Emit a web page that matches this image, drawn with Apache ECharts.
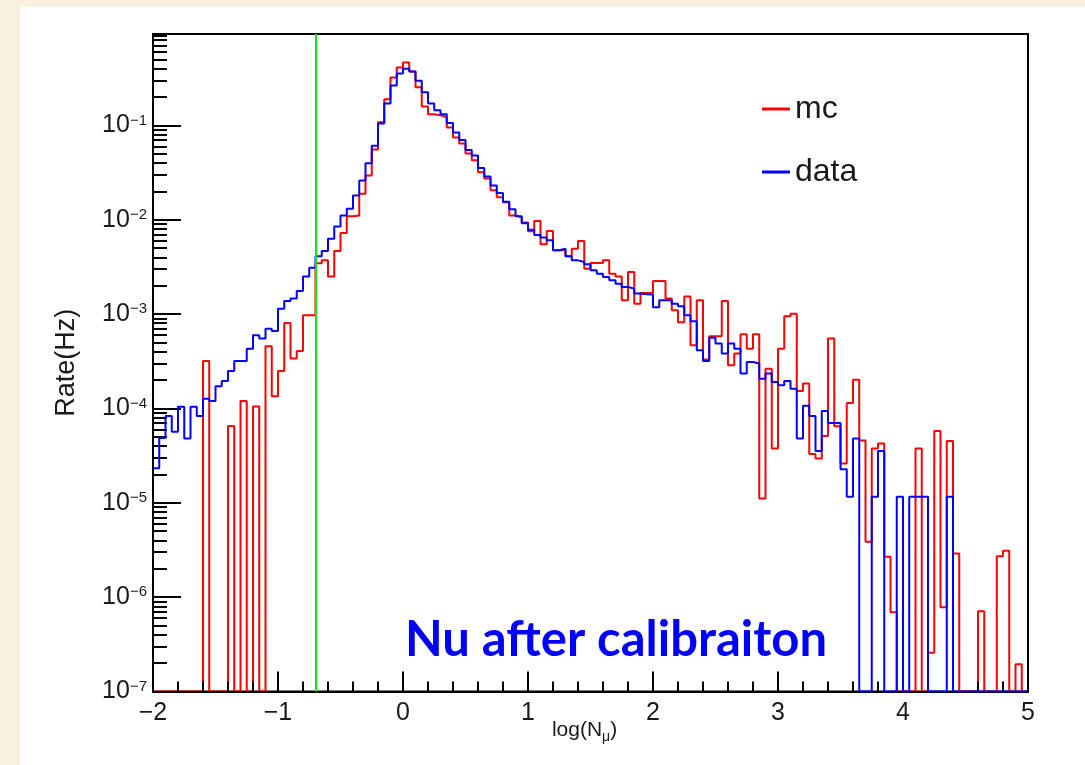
<!DOCTYPE html>
<html><head><meta charset="utf-8">
<script src="https://cdn.jsdelivr.net/npm/echarts@6/dist/echarts.min.js"></script>
<style>
html,body{margin:0;padding:0;background:#f9f0df;overflow:hidden;}
#paper{position:absolute;left:20px;top:7px;width:1065px;height:758px;background:#ffffff;}
#chart{position:absolute;left:0;top:0;width:1085px;height:765px;}
</style></head><body>
<div id="paper"></div><div id="chart"></div>
<script>
// ---- histogram binning ----
const BIN_START = -2;
const BIN_WIDTH = 0.05;
const X_MIN = -2, X_MAX = 5;
const Y_MIN = 1e-7, Y_MAX = 0.93;
const CUT_X = -0.7;
const Y_DECADES = [1e-7, 1e-6, 1e-5, 1e-4, 1e-3, 1e-2, 1e-1];
const SERIES_NAMES = ['mc', 'data'];
const TITLE_TEXT = 'Nu after calibraiton';
const X_TITLE = 'log(N';
const X_TITLE_SUB = 'μ';
const Y_TITLE = 'Rate(Hz)';

// mc rate per bin (0 = empty bin)
const mcRate = [
 0,0,0,0,0,0,0,0,3.18e-4,0,
 0,0,6.5e-5,0,1.2e-4,0,1.05e-4,0,4.56e-4,1.35e-4,
 2.5e-4,8.05e-4,3.38e-4,4.06e-4,9.7e-4,9.7e-4,3.45e-3,3.71e-3,2.51e-3,4.66e-3,
 7.23e-3,1.09e-2,1.11e-2,1.89e-2,2.95e-2,5.56e-2,0.108,0.189,0.322,0.411,
 0.465,0.373,0.253,0.159,0.131,0.128,0.122,9.5e-2,7.46e-2,6.44e-2,
 5.05e-2,4.26e-2,3.18e-2,2.74e-2,2.05e-2,1.73e-2,1.53e-2,1.11e-2,1.06e-2,9.37e-3,
 7.54e-3,9.67e-3,5.49e-3,7.6e-3,4.74e-3,4.74e-3,4.1e-3,4.94e-3,5.95e-3,3.03e-3,
 3.48e-3,3.48e-3,3.71e-3,2.68e-3,2.51e-3,1.4e-3,2.79e-3,1.29e-3,1.67e-3,1.67e-3,
 2.24e-3,2.24e-3,1.46e-3,1.1e-3,8.18e-4,1.54e-3,4.67e-4,1.4e-3,3.3e-4,5.82e-4,
 5.82e-4,1.38e-3,2.87e-4,3.82e-4,6.1e-4,4.3e-4,6.1e-4,1.11e-5,2.64e-4,3.77e-5,
 4.3e-4,9.46e-4,1.01e-3,1.53e-4,1.84e-4,3.28e-5,2.95e-5,5.09e-5,5.5e-4,6.49e-5,
 2.61e-5,1.14e-4,2.02e-4,4.56e-5,3.86e-6,3.77e-5,4.26e-5,2.68e-6,6.9e-7,0,
 0,0,3.77e-5,0,2.58e-7,5.78e-5,7.8e-7,4.53e-5,2.91e-6,0,
 0,0,7.1e-7,0,0,2.72e-6,3.1e-6,0,1.95e-7,0
];

// data rate per bin (0 = empty bin)
const dataRate = [
 2.33e-5,4.85e-5,8.3e-5,5.65e-5,1.04e-4,4.8e-5,1.04e-4,8.3e-5,1.27e-4,1.2e-4,
 1.72e-4,1.95e-4,2.5e-4,3.18e-4,3.18e-4,4.3e-4,5.95e-4,5.5e-4,7.0e-4,6.6e-4,
 1.14e-3,1.38e-3,1.46e-3,1.76e-3,2.51e-3,3.1e-3,4.1e-3,4.66e-3,6.3e-3,8.5e-3,
 1.11e-2,1.31e-2,1.81e-2,2.61e-2,3.96e-2,6.1e-2,0.105,0.171,0.265,0.355,
 0.398,0.373,0.297,0.225,0.171,0.145,0.131,0.106,8.4e-2,7.0e-2,
 5.47e-2,4.8e-2,3.53e-2,2.88e-2,2.31e-2,1.92e-2,1.55e-2,1.29e-2,1.09e-2,9.2e-3,
 7.85e-3,6.9e-3,6.5e-3,6.05e-3,4.74e-3,4.94e-3,4.1e-3,3.71e-3,3.56e-3,3.37e-3,
 2.91e-3,2.68e-3,2.47e-3,2.28e-3,2.1e-3,1.94e-3,1.86e-3,1.65e-3,1.62e-3,1.61e-3,
 1.18e-3,1.4e-3,1.4e-3,1.29e-3,1.21e-3,9.7e-4,8.4e-4,4.13e-4,3.18e-4,5.63e-4,
 4.87e-4,3.82e-4,4.87e-4,4.3e-4,2.34e-4,3.1e-4,2.99e-4,2.07e-4,2.34e-4,1.91e-4,
 1.76e-4,1.95e-4,1.62e-4,4.8e-5,1.07e-4,8.3e-5,3.53e-5,9.4e-5,7.0e-5,7.0e-5,
 2.27e-5,1.16e-5,4.8e-5,0,0,1.16e-5,3.55e-5,0,0,1.16e-5,
 0,1.16e-5,1.16e-5,1.16e-5,0,0,0,1.16e-5,0,0,
 0,0,0,0,0,0,0,0,0,0
];

// ---- build step-histogram points (bin left edges + closing edge) ----
function toSteps(arr) {
  const pts = arr.map((v, i) => [BIN_START + i * BIN_WIDTH, v > 0 ? v : Y_MIN]);
  pts.push([BIN_START + arr.length * BIN_WIDTH, pts[pts.length - 1][1]]);
  return pts;
}
const minorTickValues = [];
Y_DECADES.forEach(d => { for (let k = 2; k <= 9; k++) { const v = d * k; if (v <= Y_MAX) minorTickValues.push(v); } });

const FONT = '"Liberation Sans", Arial, Helvetica, sans-serif';
const TXT = '#1a1a1a';

const chart = echarts.init(document.getElementById('chart'), null, {renderer: 'canvas'});
const option = {
  animation: false,
  backgroundColor: 'transparent',
  grid: {left: 153, top: 34, width: 875, height: 657.5, show: true, borderColor: '#000', borderWidth: 2, backgroundColor: 'transparent'},
  legend: {
    orient: 'vertical', left: 757, top: 88, icon: 'rect', itemWidth: 28, itemHeight: 3, itemGap: 31,
    data: SERIES_NAMES,
    textStyle: {fontSize: 32, color: TXT, fontFamily: FONT}
  },
  xAxis: {
    type: 'value', min: X_MIN, max: X_MAX, interval: 1, z: 3,
    name: '{a|' + X_TITLE + '}{m|' + X_TITLE_SUB + '}{a|)}',
    nameLocation: 'middle', nameGap: 24, nameMoveOverlap: false,
    nameTextStyle: {
      padding: [0, 12, 0, 0],
      rich: {
        a: {fontSize: 21, color: TXT, fontFamily: FONT},
        m: {fontSize: 14, color: TXT, fontFamily: FONT, verticalAlign: 'bottom', padding: [15, 0, 0, 0]}
      }
    },
    axisLine: {onZero: false, lineStyle: {color: '#000', width: 2}},
    axisTick: {inside: true, length: 20, lineStyle: {color: '#000', width: 2}},
    minorTick: {show: true, splitNumber: 5, length: 10, lineStyle: {color: '#000', width: 2}},
    splitLine: {show: false}, minorSplitLine: {show: false},
    axisLabel: {fontSize: 25, color: TXT, fontFamily: FONT, margin: 9,
      formatter: v => (v < 0 ? '\u2212' + Math.abs(v) : String(v))}
  },
  yAxis: [{
    type: 'log', logBase: 10, min: Y_MIN, max: Y_MAX, z: 3, position: 'left', offset: 0,
    name: Y_TITLE, nameLocation: 'middle', nameGap: 73, nameRotate: 90,
    nameTextStyle: {fontSize: 27, color: TXT, fontFamily: FONT},
    axisLine: {onZero: false, lineStyle: {color: '#000', width: 2}},
    axisTick: {inside: true, length: 28, customValues: Y_DECADES, lineStyle: {color: '#000', width: 2}},
    splitLine: {show: false},
    axisLabel: {
      customValues: Y_DECADES, margin: 6,
      formatter: v => {
        const e = Math.round(Math.log10(v));
        return '{b|10}{s|' + (e < 0 ? '\u2212' : '') + Math.abs(e) + '}';
      },
      rich: {
        b: {fontSize: 25, color: TXT, fontFamily: FONT},
        s: {fontSize: 15, color: TXT, fontFamily: FONT, verticalAlign: 'top', padding: [0, 0, 4, 0]}
      }
    }
  }, {
    type: 'log', logBase: 10, min: Y_MIN, max: Y_MAX, z: 3, position: 'left', offset: 0,
    axisLine: {show: false, onZero: false},
    axisTick: {inside: true, length: 14, customValues: minorTickValues, lineStyle: {color: '#000', width: 2}},
    axisLabel: {show: false},
    splitLine: {show: false}
  }],
  series: [{
    name: SERIES_NAMES[0], type: 'line', step: 'end', symbol: 'none', z: 2,
    yAxisIndex: 0,
    lineStyle: {color: '#ff0000', width: 2}, itemStyle: {color: '#ff0000'},
    data: toSteps(mcRate)
  }, {
    name: SERIES_NAMES[1], type: 'line', step: 'end', symbol: 'none', z: 4,
    yAxisIndex: 0,
    lineStyle: {color: '#0000ff', width: 2}, itemStyle: {color: '#0000ff'},
    data: toSteps(dataRate),
    markLine: {
      silent: true, symbol: ['none', 'none'], label: {show: false},
      lineStyle: {color: '#00ee00', width: 2, type: 'solid'},
      data: [{xAxis: CUT_X}]
    }
  }],
  graphic: [{
    type: 'text', left: 405, top: 616, z: 10,
    style: {text: TITLE_TEXT, font: 'bold 49px Lato, "Open Sans", sans-serif', fill: '#0000ff'}
  }]
};
chart.setOption(option);
</script>
</body></html>
